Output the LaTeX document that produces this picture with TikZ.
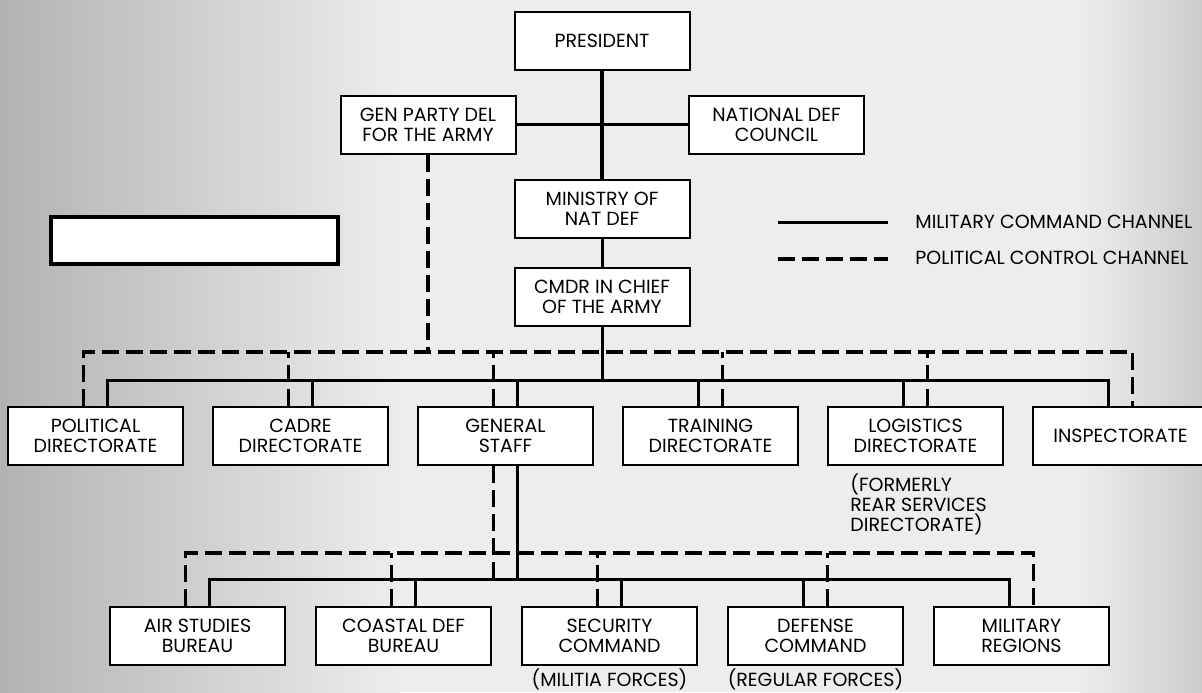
\documentclass[tikz,border=0pt]{standalone}
\usepackage{fontspec}
\setmainfont{Poppins}
\usetikzlibrary{positioning}

\begin{document}
\begin{tikzpicture}[x=0.5pt, y=-0.5pt,
  box/.style={draw, fill=white, line width=1pt, align=center, minimum width=87.5pt, minimum height=29pt, inner sep=2pt, font=\fontsize{9.5}{10}\selectfont},
  blank/.style={draw, fill=white, line width=1.8pt, minimum width=143.5pt, minimum height=23.5pt},
  note/.style={align=left, inner sep=0pt, font=\fontsize{9.5}{10}\selectfont},
  milline/.style={line width=1.5pt},
  polline/.style={line width=1.6pt, dash pattern=on 8.5pt off 3.5pt}
]
\useasboundingbox (0,0) rectangle (1202,692);
% scanned paper
\fill[black!7] (0,0) rectangle (1202,692);
\shade[left color=black!30, right color=black!7] (0,0) rectangle (400,692);
\shade[left color=black!7, right color=black!20] (1080,0) rectangle (1202,692);

% top of the chain
\node[box] (pres) at (602,40.5) {PRESIDENT};
\node[box] (gpd) at (428,124.5) {GEN PARTY DEL\\FOR THE ARMY};
\node[box] (ndc) at (776.5,124.5) {NATIONAL DEF\\COUNCIL};
\node[box] (mnd) at (602,209) {MINISTRY OF\\NAT DEF};
\node[box, below=14pt of mnd] (cic) {CMDR IN CHIEF\\OF THE ARMY};
\node[blank] (blk) at (194.5,240.5) {};

% legend
\coordinate (lgma) at (778,222);
\coordinate (lgmb) at (888,222);
\coordinate (lgpa) at (778,259);
\coordinate (lgpb) at (888,259);
\node[note, anchor=west] (lgm) at (915,222) {MILITARY COMMAND CHANNEL};
\node[note, anchor=west] (lgp) at (915,258) {POLITICAL CONTROL CHANNEL};
\draw[milline] (lgma) -- (lgmb);
\draw[polline] (lgpa) -- (lgpb);

% directorates
\node[box] (pol) at (95.5,436) {POLITICAL\\DIRECTORATE};
\node[box, right=14pt of pol] (cad) {CADRE\\DIRECTORATE};
\node[box, right=14pt of cad] (gs) {GENERAL\\STAFF};
\node[box, right=14pt of gs] (trn) {TRAINING\\DIRECTORATE};
\node[box, right=14pt of trn] (lgs) {LOGISTICS\\DIRECTORATE};
\node[box, right=14pt of lgs] (insp) {INSPECTORATE};
\node[note, anchor=north west] (lgsnote) at (850,473) {(FORMERLY\\REAR SERVICES\\DIRECTORATE)};

% under the general staff
\node[box] (air) at (197.5,636) {AIR STUDIES\\BUREAU};
\node[box, right=14.5pt of air] (cst) {COASTAL DEF\\BUREAU};
\node[box, right=14.5pt of cst] (sec) {SECURITY\\COMMAND};
\node[box, right=14.5pt of sec] (dfn) {DEFENSE\\COMMAND};
\node[box, right=14.5pt of dfn] (mr) {MILITARY\\REGIONS};
\node[note, below=1pt of sec] (secnote) {(MILITIA FORCES)};
\node[note, below=1pt of dfn] (dfnnote) {(REGULAR FORCES)};

% bus levels
\coordinate (pbus) at (0,352);
\coordinate (mbus) at (0,380);
\coordinate (pbus2) at (0,553);
\coordinate (mbus2) at (0,579);

% military command channel
\draw[milline, line width=1.9pt] (pres.south) -- (mnd.north);
\draw[milline, line width=1.9pt] (gpd.east) -- (gpd.east -| ndc.west);
\draw[milline] (mnd.south) -- (cic.north);
\draw[milline] (cic.south) -- (cic.south |- mbus);
\draw[milline] ([xshift=6pt]pol.north) |- ([xshift=-6pt]insp.north |- mbus) -- ([xshift=-6pt]insp.north);
\foreach \n in {cad,gs} {
  \draw[milline] ([xshift=6pt]\n.north) -- ([xshift=6pt]\n.north |- mbus);
}
\foreach \n in {trn,lgs} {
  \draw[milline] ([xshift=-6pt]\n.north) -- ([xshift=-6pt]\n.north |- mbus);
}
\draw[milline] ([xshift=6pt]gs.south) -- ([xshift=6pt]gs.south |- mbus2);
\draw[milline] ([xshift=6pt]air.north) |- ([xshift=-6pt]mr.north |- mbus2) -- ([xshift=-6pt]mr.north);
\foreach \n in {cst,sec} {
  \draw[milline] ([xshift=6pt]\n.north) -- ([xshift=6pt]\n.north |- mbus2);
}
\draw[milline] ([xshift=-6pt]dfn.north) -- ([xshift=-6pt]dfn.north |- mbus2);

% political control channel
\draw[polline] (gpd.south) -- (gpd.south |- pbus);
\draw[polline] ([xshift=-6pt]pol.north) |- ([xshift=6pt]insp.north |- pbus) -- ([xshift=6pt]insp.north);
\foreach \n in {cad,gs} {
  \draw[polline] ([xshift=-6pt]\n.north) -- ([xshift=-6pt]\n.north |- pbus);
}
\foreach \n in {trn,lgs} {
  \draw[polline] ([xshift=6pt]\n.north) -- ([xshift=6pt]\n.north |- pbus);
}
\draw[polline] ([xshift=-6pt]gs.south) -- ([xshift=-6pt]gs.south |- mbus2);
\draw[polline] ([xshift=-6pt]air.north) |- ([xshift=6pt]mr.north |- pbus2) -- ([xshift=6pt]mr.north);
\foreach \n in {cst,sec} {
  \draw[polline] ([xshift=-6pt]\n.north) -- ([xshift=-6pt]\n.north |- pbus2);
}
\draw[polline] ([xshift=6pt]dfn.north) -- ([xshift=6pt]dfn.north |- pbus2);
\end{tikzpicture}
\end{document}
